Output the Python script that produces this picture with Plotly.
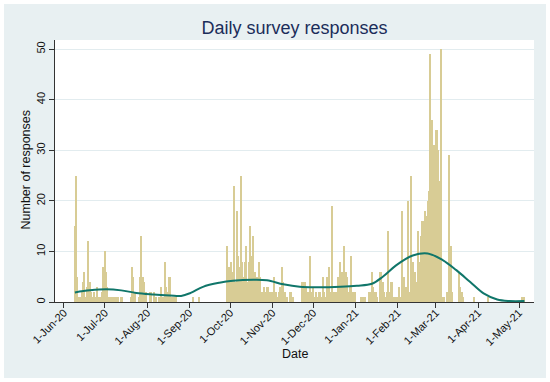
import pandas as pd
import plotly.graph_objects as go

start = pd.Timestamp("2020-06-01")

# day offset from 1-Jun-20 -> responses (days not listed had none)
day_offsets = [8, 9, 10, 11, 12, 13, 14, 15, 16, 17, 18, 19, 20, 21, 22, 23, 24, 25, 26, 27, 28, 29, 30, 31, 32,
               33, 34, 35, 36, 37, 38, 39, 40, 42, 43,
               49, 50, 51, 52, 55, 56, 57, 58, 59, 60, 63, 64, 66, 68, 70, 71, 72, 73, 74, 75, 76, 77, 78, 79, 80, 81, 82,
               95, 99,
               120, 121, 122, 123, 124, 125, 126, 127, 128, 129, 130, 131, 132, 133, 134, 135, 136, 137, 138, 139, 140,
               141, 142, 143, 144, 145, 146, 147, 148, 149, 150, 151, 152, 153, 154, 155, 156, 157, 158, 159, 160, 161,
               162, 163, 164, 166, 167, 168,
               175, 176, 177, 178, 179, 180, 181, 182, 183, 184, 185, 186, 187, 188, 189, 190, 191, 192, 193, 194, 195,
               196, 197, 198, 199, 200, 201, 202, 203, 204, 205, 206, 207, 208, 209, 210, 211, 212, 213, 214,
               218, 219, 220, 221, 224, 225, 226, 227, 228, 229, 230, 232, 233, 234, 235, 236, 237, 238, 239, 240, 241,
               242, 244, 245, 246, 247, 248, 249, 250, 251, 252, 253, 254, 255, 256, 257, 258, 259, 260, 261, 262, 263,
               264, 265, 266, 267, 268, 269, 270, 271, 272, 273, 274, 275, 276, 277, 278, 279, 281, 283, 284, 285,
               290, 291, 292, 293, 301, 311, 336, 338]
responses = [15, 25, 5, 1, 1, 2, 4, 6, 1, 3, 12, 4, 2, 1, 2, 1, 3, 1, 1, 1, 2, 7, 10, 6, 3,
             1, 1, 1, 1, 1, 1, 1, 1, 1, 1,
             1, 7, 5, 2, 1, 5, 13, 5, 4, 2, 2, 2, 2, 1, 1, 3, 1, 1, 8, 3, 2, 5, 5, 1, 1, 1, 1,
             1, 1,
             11, 7, 4, 8, 6, 23, 4, 18, 9, 7, 25, 8, 5, 8, 11, 4, 8, 15, 9, 13, 6,
             3, 5, 8, 5, 2, 2, 3, 2, 3, 3, 2, 1, 2, 5, 2, 2, 1, 2, 3, 7, 4,
             2, 1, 1, 2, 2, 1,
             4, 4, 4, 3, 2, 1, 9, 2, 3, 1, 2, 1, 2, 2, 1, 5, 2, 1, 5, 3, 7,
             2, 19, 2, 1, 2, 5, 3, 8, 6, 3, 11, 6, 5, 2, 3, 9, 2, 1, 2,
             1, 1, 1, 1, 2, 2, 6, 3, 2, 2, 1, 6, 6, 4, 2, 1, 2, 14, 2, 4, 4,
             1, 1, 1, 3, 1, 18, 2, 5, 3, 1, 20, 2, 25, 8, 1, 6, 4, 14, 8, 13, 16,
             16, 18, 17, 20, 22, 49, 36, 31, 31, 34, 34, 30, 24, 50, 1, 1, 2, 29, 11, 2,
             6, 3, 2, 1, 1, 1, 1, 1]

# smoothed trend (day offset, value)
trend_days = [8, 19, 31, 42, 53, 66, 78, 86, 93, 102, 114, 124, 139, 149, 161, 173, 185, 203, 215, 226, 234,
              244, 256, 267, 278, 288, 298, 308, 318, 327, 338]
trend_vals = [1.9, 2.3, 2.5, 2.3, 1.8, 1.5, 1.3, 1.2, 1.8, 3.0, 3.8, 4.2, 4.4, 4.3, 3.5, 3.0, 2.9, 3.0, 3.2, 3.6, 5.0,
              7.3, 9.2, 9.6, 8.3, 6.3, 4.0, 1.7, 0.5, 0.2, 0.2]

tick_months = pd.date_range("2020-06-01", "2021-05-01", freq="MS")
tick_labels = [f"{d.day}-{d.strftime('%b-%y')}" for d in tick_months]

bar_dates = [start + pd.Timedelta(days=d) for d in day_offsets]
trend_dates = [start + pd.Timedelta(days=d) for d in trend_days]

BG = "#E8F0F2"
GRID = "#E2ECEF"

fig = go.Figure()
fig.add_trace(go.Bar(x=bar_dates, y=responses, width=86400000,
                     marker=dict(color="#D8CC95", line=dict(width=0)), showlegend=False))
fig.add_trace(go.Scatter(x=trend_dates, y=trend_vals, mode="lines",
                         line=dict(color="#10766A", width=2, shape="spline", smoothing=1.0), showlegend=False))

# figure is 542x374, placed with a 4px page margin
W, H = 542, 374
L, R, T, B = 51, 12, 36, 76
pw, ph = W - L - R, H - T - B

fig.update_layout(
    width=W, height=H,
    margin=dict(l=L, r=R, t=T, b=B, autoexpand=False),
    paper_bgcolor=BG, plot_bgcolor="white",
    font=dict(family="Liberation Sans, Arial, sans-serif", size=12, color="#111"),
    title=dict(text="Daily survey responses", x=(L + pw / 2) / W, xanchor="center", y=1 - 24 / H, yanchor="middle",
               font=dict(size=18, color="#1B2D5A")),
    bargap=0,
    xaxis=dict(type="date", automargin=False,
               range=[start - pd.Timedelta(days=6.6), pd.Timestamp("2021-05-12")],
               tickvals=list(tick_months), ticktext=tick_labels, tickangle=-45,
               tickfont=dict(size=11), ticklabelstandoff=-6,
               ticks="outside", ticklen=5, tickcolor="#333", showgrid=False,
               showline=True, linecolor="#333", linewidth=1, zeroline=False),
    yaxis=dict(range=[0, 51.8], tickvals=[0, 10, 20, 30, 40, 50], tickangle=-90, automargin=False,
               tickfont=dict(size=11),
               ticks="outside", ticklen=5, tickcolor="#333",
               showgrid=True, gridcolor=GRID, gridwidth=1,
               showline=True, linecolor="#333", linewidth=1, zeroline=False),
    annotations=[
        dict(text="Number of responses", xref="paper", yref="paper", x=(21 - L) / pw, y=0.5 + 1.5 / ph,
             textangle=-90, showarrow=False, xanchor="center", yanchor="middle", font=dict(size=12.5)),
        dict(text="Date", xref="paper", yref="paper", x=0.5, y=-(350 - (H - B)) / ph,
             showarrow=False, xanchor="center", yanchor="middle", font=dict(size=12.5)),
    ],
)

fig.write_html("out.html", config={"displayModeBar": False},
               post_script="document.body.style.margin='4px';document.body.style.padding='0';"
                           "document.body.style.background='white';")
